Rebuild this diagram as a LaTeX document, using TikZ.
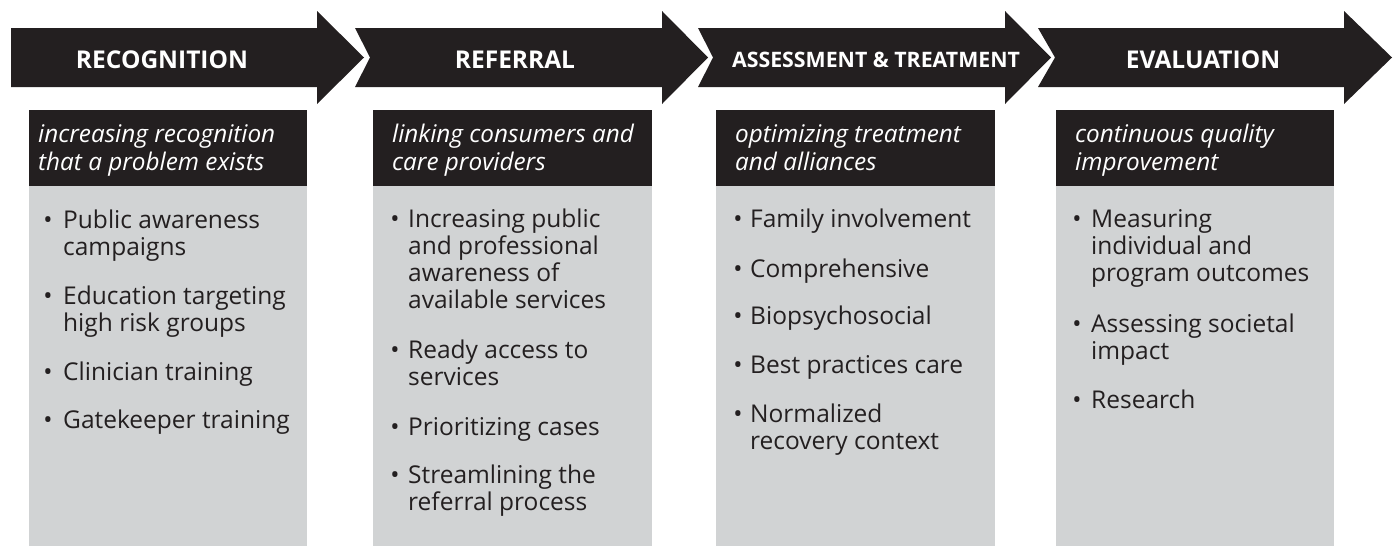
\documentclass[tikz,border=0pt]{standalone}
\usepackage{fontspec}
\setmainfont{Open Sans}
\definecolor{ink}{HTML}{231F20}
\definecolor{panel}{HTML}{D1D3D4}
\newcommand\mlines[1]{\begin{tabular}[t]{@{}l@{}}#1\end{tabular}}
\tikzset{
  arrowshape/.style={fill=ink},
  headbar/.style={fill=ink},
  panelbox/.style={fill=panel},
  headlabel/.style={text=white, font=\bfseries\fontsize{24.5}{28}\selectfont, anchor=base, inner sep=0pt},
  headlabelsmall/.style={text=white, font=\bfseries\fontsize{21.3}{25}\selectfont, anchor=base, inner sep=0pt},
  subtitle/.style={text=white, font=\itshape\fontsize{24.3}{28}\selectfont, anchor=base west, inner sep=0pt},
  itemtext/.style={text=ink, font=\fontsize{24.5}{27.3}\selectfont, anchor=base west, inner sep=0pt},
  bulletmark/.style={text=ink, font=\fontsize{24.5}{27.3}\selectfont, anchor=base, inner sep=0pt},
}
\begin{document}
\begin{tikzpicture}[x=1pt,y=-1pt]
\useasboundingbox (0,0) rectangle (1397,546);
% arrows
\fill[arrowshape] (11,28) -- (317,28) -- (317,11) -- (364,57.5) -- (317,104) -- (317,87) -- (11,87) -- cycle;
\fill[arrowshape] (355,28) -- (662,28) -- (662,11) -- (708,57.5) -- (662,104) -- (662,87) -- (355,87) -- (370,57.5) -- cycle;
\fill[arrowshape] (698,28) -- (1005,28) -- (1005,11) -- (1051,57.5) -- (1005,104) -- (1005,87) -- (698,87) -- (713,57.5) -- cycle;
\fill[arrowshape] (1038,28) -- (1344,28) -- (1344,11) -- (1392,57.5) -- (1344,104) -- (1344,87) -- (1038,87) -- (1055,57.5) -- cycle;
\node[headlabel] (h1) at (162,68) {RECOGNITION};
\node[headlabel] (h2) at (515,68) {REFERRAL};
\node[headlabelsmall] (h3) at (876,67) {ASSESSMENT \& TREATMENT};
\node[headlabel] (h4) at (1203,68) {EVALUATION};
% panels
\fill[headbar] (29,110) rectangle (307,186);
\fill[panelbox] (29,186) rectangle (307,546);
\fill[headbar] (373,110) rectangle (652,186);
\fill[panelbox] (373,186) rectangle (652,546);
\fill[headbar] (716,110) rectangle (995,186);
\fill[panelbox] (716,186) rectangle (995,546);
\fill[headbar] (1056,110) rectangle (1334,186);
\fill[panelbox] (1056,186) rectangle (1334,546);
% subtitles
\node[subtitle] (s1) at (38,142) {\mlines{increasing recognition\\that a problem exists}};
\node[subtitle] (s2) at (392,142) {\mlines{linking consumers and\\care providers}};
\node[subtitle] (s3) at (735,142) {\mlines{optimizing treatment\\and alliances}};
\node[subtitle] (s4) at (1075,142) {\mlines{continuous quality\\improvement}};
% column 1
\node[bulletmark] (b11) at (48,228) {•};
\node[itemtext] (t11) at (63,228) {\mlines{Public awareness\\campaigns}};
\node[bulletmark] (b12) at (48,304) {•};
\node[itemtext] (t12) at (63,304) {\mlines{Education targeting\\high risk groups}};
\node[bulletmark] (b13) at (48,380) {•};
\node[itemtext] (t13) at (63,380) {Clinician training};
\node[bulletmark] (b14) at (48,428) {•};
\node[itemtext] (t14) at (63,428) {Gatekeeper training};
% column 2
\node[bulletmark] (b21) at (395,227) {•};
\node[itemtext] (t21) at (408,227) {\mlines{Increasing public\\and professional\\awareness of\\available services}};
\node[bulletmark] (b22) at (395,358) {•};
\node[itemtext] (t22) at (408,358) {\mlines{Ready access to\\services}};
\node[bulletmark] (b23) at (395,435) {•};
\node[itemtext] (t23) at (408,435) {Prioritizing cases};
\node[bulletmark] (b24) at (395,483) {•};
\node[itemtext] (t24) at (408,483) {\mlines{Streamlining the\\referral process}};
% column 3
\node[bulletmark] (b31) at (738,227) {•};
\node[itemtext] (t31) at (750,227) {Family involvement};
\node[bulletmark] (b32) at (738,277) {•};
\node[itemtext] (t32) at (750,277) {Comprehensive};
\node[bulletmark] (b33) at (738,324) {•};
\node[itemtext] (t33) at (750,324) {Biopsychosocial};
\node[bulletmark] (b34) at (738,373) {•};
\node[itemtext] (t34) at (750,373) {Best practices care};
\node[bulletmark] (b35) at (738,422) {•};
\node[itemtext] (t35) at (750,422) {\mlines{Normalized\\recovery context}};
% column 4
\node[bulletmark] (b41) at (1077,227) {•};
\node[itemtext] (t41) at (1091,227) {\mlines{Measuring\\individual and\\program outcomes}};
\node[bulletmark] (b42) at (1077,332) {•};
\node[itemtext] (t42) at (1091,332) {\mlines{Assessing societal\\impact}};
\node[bulletmark] (b43) at (1077,408) {•};
\node[itemtext] (t43) at (1091,408) {Research};
\end{tikzpicture}
\end{document}
